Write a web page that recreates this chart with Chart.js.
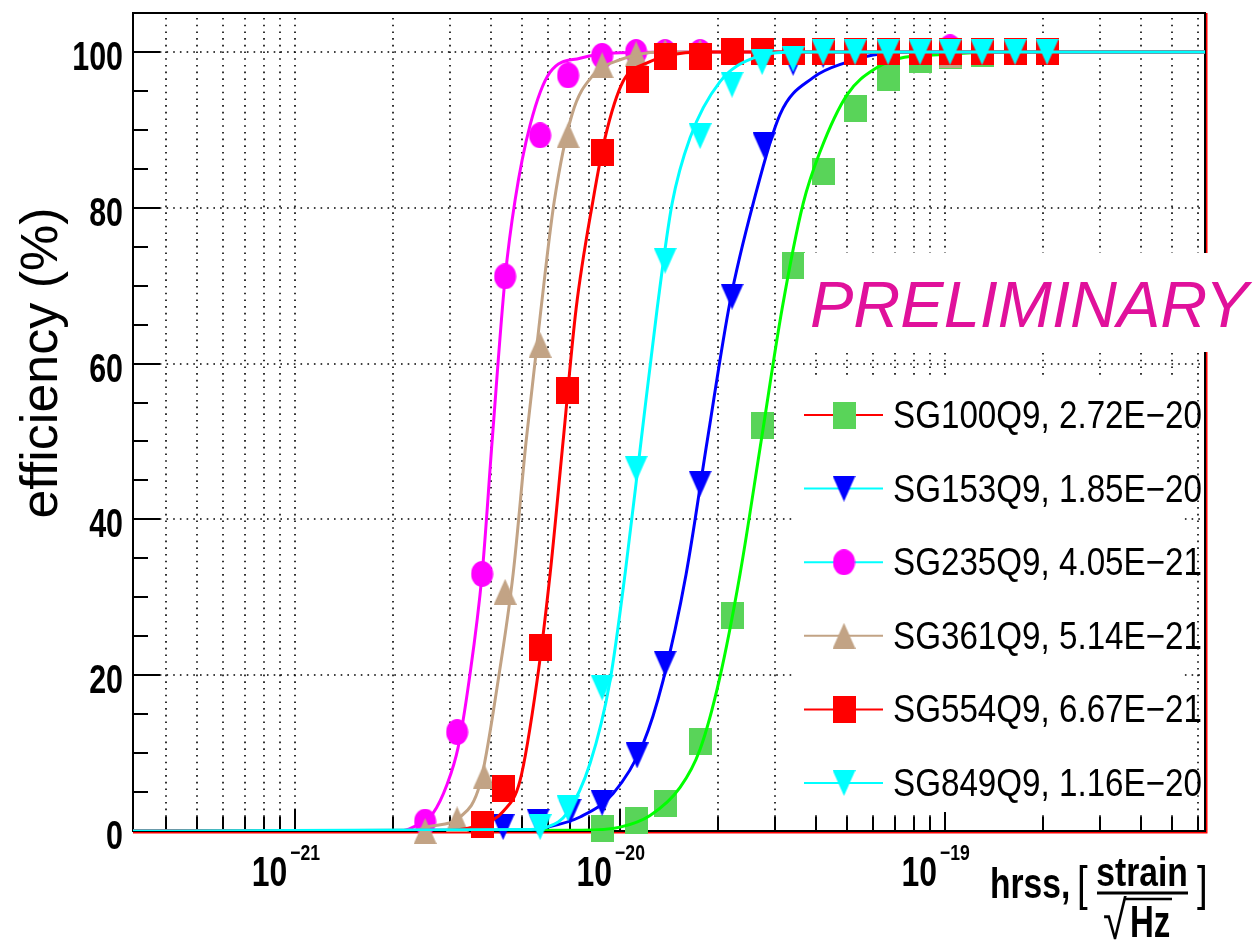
<!DOCTYPE html>
<html>
<head>
<meta charset="utf-8">
<title>Efficiency vs hrss</title>
<script src="https://cdn.jsdelivr.net/npm/chart.js@4.4.1/dist/chart.umd.min.js"></script>
<style>
  html, body { margin: 0; padding: 0; background: #fff; }
  #wrap { width: 1259px; height: 940px; }
</style>
</head>
<body>
<div id="wrap"><canvas id="effChart" width="1259" height="940"></canvas></div>
<script>
// axis ranges: hrss [strain/sqrt(Hz)] and efficiency [%]
const xMin = 3.17e-22;
const xMax = 6.31e-19;
const yMin = 0;
const yMax = 105;

// tick labels
const yTickLabels = [0, 20, 40, 60, 80, 100];
const yMinorStep = 5;
const xLabelExponents = [-21, -20, -19];

// legend entries (same order as the series below)
const seriesNames = [
    'SG100Q9, 2.72E\u221220',
    'SG153Q9, 1.85E\u221220',
    'SG235Q9, 4.05E\u221221',
    'SG361Q9, 5.14E\u221221',
    'SG554Q9, 6.67E\u221221',
    'SG849Q9, 1.16E\u221220'
];

// measured efficiency points
const hrssSG100 = [8.80e-21, 1.12e-20, 1.376e-20, 1.763e-20, 2.211e-20, 2.735e-20, 3.407e-20, 4.214e-20, 5.285e-20, 6.677e-20, 8.377e-20, 1.036e-19, 1.300e-19, 1.642e-19, 2.060e-19];
const effSG100 = [0.3, 1.3, 3.5, 11.5, 27.7, 52.0, 72.6, 84.7, 92.7, 96.7, 99.0, 99.5, 99.8, 100, 100];

const hrssSG153 = [4.365e-21, 5.594e-21, 7.017e-21, 8.803e-21, 1.128e-20, 1.376e-20, 1.763e-20, 2.211e-20, 2.774e-20, 3.407e-20, 4.214e-20, 5.285e-20, 6.677e-20, 8.377e-20, 1.036e-19, 1.300e-19, 1.642e-19, 2.060e-19];
const effSG153 = [0.5, 1.2, 2.5, 3.6, 9.7, 21.5, 44.6, 68.6, 88.0, 98.6, 99.6, 100, 100, 100, 100, 100, 100, 100];

const hrssSG235 = [2.512e-21, 3.151e-21, 3.762e-21, 4.428e-21, 5.674e-21, 6.918e-21, 8.803e-21, 1.12e-20, 1.376e-20, 1.763e-20, 2.211e-20, 2.735e-20, 3.407e-20, 4.214e-20, 5.285e-20, 6.677e-20, 8.377e-20, 1.036e-19];
const effSG235 = [1.2, 12.7, 33.0, 71.2, 89.3, 97.0, 99.5, 100, 100, 100, 100, 100, 100, 100, 100, 100, 100, 100.6];

const hrssSG361 = [2.512e-21, 3.151e-21, 3.816e-21, 4.428e-21, 5.674e-21, 6.918e-21, 8.803e-21, 1.12e-20, 1.376e-20, 1.763e-20, 2.211e-20, 2.735e-20, 3.407e-20, 4.214e-20, 5.285e-20, 6.677e-20, 8.377e-20, 1.036e-19];
const effSG361 = [0, 1.5, 7.0, 30.7, 62.4, 89.3, 98.3, 99.7, 100, 100, 100, 100, 100, 100, 100, 100, 100, 99.6];

const hrssSG554 = [3.762e-21, 4.365e-21, 5.674e-21, 6.869e-21, 8.803e-21, 1.128e-20, 1.376e-20, 1.763e-20, 2.211e-20, 2.735e-20, 3.407e-20, 4.214e-20, 5.285e-20, 6.677e-20, 8.377e-20, 1.036e-19, 1.300e-19, 1.642e-19, 2.060e-19];
const effSG554 = [0.8, 5.4, 23.5, 56.5, 87.1, 96.4, 99.4, 99.4, 100, 100, 100, 100, 100, 100, 100, 100, 100, 100, 100];

const hrssSG849 = [5.674e-21, 6.918e-21, 8.803e-21, 1.12e-20, 1.376e-20, 1.763e-20, 2.211e-20, 2.735e-20, 3.407e-20, 4.214e-20, 5.285e-20, 6.677e-20, 8.377e-20, 1.036e-19, 1.300e-19, 1.642e-19, 2.060e-19];
const effSG849 = [0.5, 2.9, 18.4, 46.5, 73.2, 89.2, 95.8, 98.7, 99.1, 100, 100, 100, 100, 100, 100, 100, 100];

// fitted curves
const fitHrssSG100 = [3.17e-22, 7.531e-21, 1.0e-20, 1.237e-20, 1.530e-20, 1.763e-20, 2.017e-20, 2.340e-20, 2.716e-20, 3.151e-20, 3.657e-20, 4.125e-20, 4.994e-20, 6.177e-20, 7.268e-20, 9.185e-20, 1.476e-19, 6.31e-19];
const fitEffSG100 = [0, 0.1, 0.5, 2, 5.6, 10.5, 19.3, 33, 50, 67, 80.5, 87.2, 94.5, 98, 99.2, 99.6, 100, 100];

const fitHrssSG153 = [3.17e-22, 5.0e-21, 5.963e-21, 7.531e-21, 9.517e-21, 1.177e-20, 1.356e-20, 1.597e-20, 1.853e-20, 2.181e-20, 2.566e-20, 3.107e-20, 3.925e-20, 4.994e-20, 6.004e-20, 8.377e-20, 6.31e-19];
const fitEffSG153 = [0, 0.1, 0.5, 1.8, 4.8, 11.2, 19.3, 33, 50, 68, 80.5, 92, 96.7, 98.7, 99.6, 100, 100];

const fitHrssSG235 = [3.17e-22, 2.104e-21, 2.307e-21, 2.658e-21, 2.936e-21, 3.173e-21, 3.430e-21, 3.762e-21, 4.038e-21, 4.428e-21, 4.753e-21, 5.285e-21, 6.091e-21, 7.531e-21, 1.0e-20, 1.763e-20, 6.31e-19];
const fitEffSG235 = [0, 0, 0.5, 2.3, 6, 10.7, 19.3, 33, 50, 71, 81, 90.6, 97.4, 99.2, 99.9, 100, 100];

const fitHrssSG361 = [3.17e-22, 2.258e-21, 2.602e-21, 3.218e-21, 3.709e-21, 4.213e-21, 4.687e-21, 5.137e-21, 5.674e-21, 6.266e-21, 7.117e-21, 8.259e-21, 1.0e-20, 1.328e-20, 6.31e-19];
const fitEffSG361 = [0, 0, 0.6, 1.8, 6.1, 19.3, 33, 50, 66, 80.7, 92, 97, 99, 100, 100];

const fitHrssSG554 = [3.17e-22, 2.999e-21, 3.709e-21, 4.365e-21, 4.924e-21, 5.554e-21, 6.091e-21, 6.677e-21, 7.321e-21, 8.259e-21, 8.992e-21, 1.021e-20, 1.211e-20, 1.763e-20, 6.31e-19];
const fitEffSG554 = [0, 0.1, 0.8, 2.5, 6.5, 19.3, 33, 50, 67, 81, 89, 96.2, 98.6, 100, 100];

const fitHrssSG849 = [3.17e-22, 5.285e-21, 5.963e-21, 6.869e-21, 8.086e-21, 9.316e-21, 1.036e-20, 1.160e-20, 1.300e-20, 1.445e-20, 1.642e-20, 2.031e-20, 2.566e-20, 3.580e-20, 6.31e-19];
const fitEffSG849 = [0, 0.2, 0.5, 2.3, 8.7, 19.3, 33, 50, 67, 80.5, 89, 96.2, 99.2, 100, 100];

const FONT = "'Liberation Sans', Arial, Helvetica, sans-serif";

// ROOT style markers as small canvases (slightly taller than wide, like the original)
function makeMarker(shape, color) {
    const c = document.createElement('canvas');
    c.width = 23;
    c.height = shape === 'square' ? 27 : 26;
    const g = c.getContext('2d');
    g.fillStyle = color;
    g.beginPath();
    if (shape === 'square') {
        g.rect(0, 0, 23, 27);
    } else if (shape === 'circle') {
        g.ellipse(11.5, 13, 11, 13, 0, 0, Math.PI * 2);
    } else if (shape === 'down') {
        g.moveTo(0, 0); g.lineTo(23, 0); g.lineTo(11.5, 26);
    } else {
        g.moveTo(11.5, 0); g.lineTo(23, 26); g.lineTo(0, 26);
    }
    g.closePath();
    g.fill();
    return c;
}

const series = [
    { hrss: hrssSG100, eff: effSG100, fitX: fitHrssSG100, fitY: fitEffSG100, marker: makeMarker('square', '#59d459'), curve: '#00ff00', legendLine: '#ff0000' },
    { hrss: hrssSG153, eff: effSG153, fitX: fitHrssSG153, fitY: fitEffSG153, marker: makeMarker('down', '#0000ff'), curve: '#0000ff', legendLine: '#00ffff' },
    { hrss: hrssSG235, eff: effSG235, fitX: fitHrssSG235, fitY: fitEffSG235, marker: makeMarker('circle', '#ff00ff'), curve: '#ff00ff', legendLine: '#00ffff' },
    { hrss: hrssSG361, eff: effSG361, fitX: fitHrssSG361, fitY: fitEffSG361, marker: makeMarker('up', '#c2a385'), curve: '#c2a385', legendLine: '#c2a385' },
    { hrss: hrssSG554, eff: effSG554, fitX: fitHrssSG554, fitY: fitEffSG554, marker: makeMarker('square', '#ff0000'), curve: '#ff0000', legendLine: '#ff0000' },
    { hrss: hrssSG849, eff: effSG849, fitX: fitHrssSG849, fitY: fitEffSG849, marker: makeMarker('down', '#00ffff'), curve: '#00ffff', legendLine: '#00ffff' }
];

// later series are drawn on top (lower order = drawn last)
const datasets = [];
series.forEach((s, i) => {
    datasets.push({
        label: seriesNames[i] + ' points',
        data: s.hrss.map((h, k) => ({ x: h, y: s.eff[k] })),
        showLine: false,
        pointStyle: s.marker,
        pointRadius: 12,
        clip: false,
        order: 20 - 2 * i
    });
    datasets.push({
        label: seriesNames[i] + ' fit',
        data: s.fitX.map((h, k) => ({ x: h, y: s.fitY[k] })),
        borderColor: s.curve,
        borderWidth: 3,
        pointRadius: 0,
        cubicInterpolationMode: 'monotone',
        fill: false,
        order: 19 - 2 * i
    });
});

// x ticks: 1..9 times each decade inside the range
const xTickValues = [];
for (let e = -22; e <= -19; e++) {
    for (let s = 1; s <= 9; s++) {
        const v = s * Math.pow(10, e);
        if (v > xMin && v < xMax) xTickValues.push({ v, major: s === 1 });
    }
}

function drawText(ctx, str, x, y, font, sx, align, color) {
    ctx.save();
    ctx.translate(x, y);
    ctx.scale(sx, 1);
    ctx.font = font;
    ctx.textAlign = align || 'left';
    ctx.textBaseline = 'alphabetic';
    ctx.fillStyle = color || '#000';
    ctx.fillText(str, 0, 0);
    ctx.restore();
}

// frame, dotted grid, inward ticks and labels in the ROOT look
const rootFrame = {
    id: 'rootFrame',
    beforeDatasetsDraw(chart) {
        const { ctx, chartArea: a, scales: { x, y } } = chart;
        ctx.save();

        // dotted grid
        ctx.strokeStyle = '#000';
        ctx.lineWidth = 1.6;
        ctx.setLineDash([1.6, 5.1]);
        xTickValues.forEach(t => {
            const px = Math.round(x.getPixelForValue(t.v));
            ctx.beginPath();
            ctx.moveTo(px, a.top + 5);
            ctx.lineTo(px, a.bottom);
            ctx.stroke();
        });
        yTickLabels.forEach(v => {
            if (v === 0) return;
            const py = Math.round(y.getPixelForValue(v));
            ctx.beginPath();
            ctx.moveTo(a.left, py);
            ctx.lineTo(a.right, py);
            ctx.stroke();
        });
        ctx.setLineDash([]);

        // red line just outside bottom and right edges
        ctx.strokeStyle = '#ff0000';
        ctx.lineWidth = 2;
        ctx.beginPath();
        ctx.moveTo(a.left, a.bottom + 1.5);
        ctx.lineTo(a.right + 1.5, a.bottom + 1.5);
        ctx.lineTo(a.right + 1.5, a.top);
        ctx.stroke();

        // black frame
        ctx.strokeStyle = '#000';
        ctx.lineWidth = 2;
        ctx.strokeRect(a.left, a.top, a.right - a.left, a.bottom - a.top);

        // y ticks pointing inward
        for (let v = yMin; v <= yMax; v += yMinorStep) {
            const py = Math.round(y.getPixelForValue(v));
            const len = v % 20 === 0 ? 27 : 15;
            ctx.beginPath();
            ctx.moveTo(a.left, py);
            ctx.lineTo(a.left + len, py);
            ctx.stroke();
        }
        // x ticks pointing inward
        xTickValues.forEach(t => {
            const px = Math.round(x.getPixelForValue(t.v));
            ctx.beginPath();
            ctx.moveTo(px, a.bottom);
            ctx.lineTo(px, a.bottom - (t.major ? 22 : 14));
            ctx.stroke();
        });
        ctx.restore();
    },
    afterDatasetsDraw(chart) {
        const { ctx, scales: { x, y } } = chart;

        // y tick labels
        yTickLabels.forEach(v => {
            const py = y.getPixelForValue(v);
            drawText(ctx, String(v), 123, py + 18, 'bold 40px ' + FONT, 0.76, 'right');
        });

        // x tick labels 10^n
        xLabelExponents.forEach(e => {
            const px = x.getPixelForValue(Math.pow(10, e));
            drawText(ctx, '10', px - 8, 886, 'bold 42px ' + FONT, 0.76, 'right');
            drawText(ctx, '\u2212' + Math.abs(e), px - 5, 860, 'bold 22px ' + FONT, 0.8, 'left');
        });

        // y axis title
        ctx.save();
        ctx.translate(57, 363);
        ctx.rotate(-Math.PI / 2);
        ctx.font = '52px ' + FONT;
        ctx.textAlign = 'center';
        ctx.fillStyle = '#000';
        ctx.fillText('efficiency (%)', 0, 0);
        ctx.restore();

        // x axis title: hrss, [strain / sqrt(Hz)]
        drawText(ctx, 'hrss,', 990, 898, 'bold 42px ' + FONT, 0.8, 'left');
        drawText(ctx, '[', 1077, 900, '48px ' + FONT, 0.8, 'left');
        drawText(ctx, 'strain', 1142, 886, 'bold 40px ' + FONT, 0.84, 'center');
        ctx.save();
        ctx.strokeStyle = '#000';
        ctx.lineWidth = 3;
        ctx.beginPath();
        ctx.moveTo(1097, 893);
        ctx.lineTo(1188, 893);
        ctx.stroke();
        ctx.lineWidth = 2.5;
        ctx.beginPath();
        ctx.moveTo(1125, 899);
        ctx.lineTo(1172, 899);
        ctx.stroke();
        ctx.restore();
        drawText(ctx, '\u221a', 1103, 939, '54px ' + FONT, 0.8, 'left');
        drawText(ctx, 'Hz', 1130, 937, 'bold 44px ' + FONT, 0.75, 'left');
        drawText(ctx, ']', 1197, 900, '48px ' + FONT, 0.8, 'left');
    },
    afterDraw(chart) {
        const { ctx } = chart;
        ctx.save();

        // legend box
        ctx.fillStyle = '#fff';
        ctx.fillRect(792, 378, 391, 434);
        series.forEach((s, i) => {
            const rowY = 415 + i * 73.6;
            ctx.strokeStyle = s.legendLine;
            ctx.lineWidth = 2;
            ctx.beginPath();
            ctx.moveTo(804, rowY);
            ctx.lineTo(883, rowY);
            ctx.stroke();
            ctx.drawImage(s.marker, 844 - s.marker.width / 2, rowY - s.marker.height / 2);
            drawText(ctx, seriesNames[i], 893, rowY + 13, '38px ' + FONT, 0.873, 'left');
        });

        // PRELIMINARY label
        ctx.fillStyle = '#fff';
        ctx.fillRect(804, 253, 455, 99);
        ctx.restore();
        drawText(ctx, 'PRELIMINARY', 810, 327, 'italic 65px ' + FONT, 1, 'left', '#e0119b');
    }
};

new Chart(document.getElementById('effChart').getContext('2d'), {
    type: 'line',
    data: { datasets },
    options: {
        responsive: false,
        animation: false,
        events: [],
        layout: { padding: { left: 133, top: 7, right: 54, bottom: 109 } },
        scales: {
            x: {
                type: 'logarithmic',
                display: false,
                min: xMin,
                max: xMax,
                bounds: 'data'
            },
            y: {
                type: 'linear',
                display: false,
                min: yMin,
                max: yMax
            }
        },
        plugins: {
            legend: { display: false },
            tooltip: { enabled: false }
        }
    },
    plugins: [rootFrame]
});
</script>
</body>
</html>
